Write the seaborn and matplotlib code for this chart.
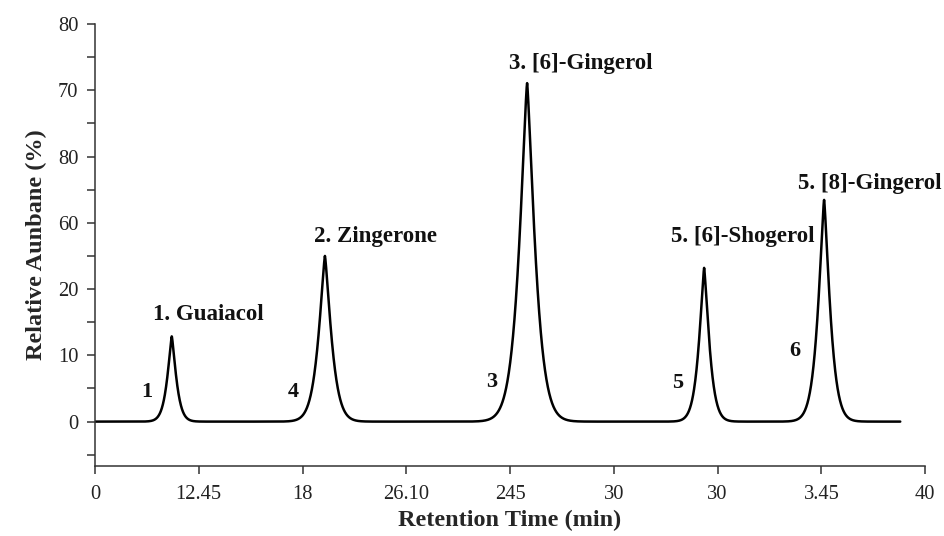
import numpy as np
import pandas as pd
import matplotlib
matplotlib.use("Agg")
import matplotlib.pyplot as plt
import seaborn as sns

# peaks (x in axis units 0-40, y in axis units)
peak_centers = [3.70, 11.08, 20.82, 29.35, 35.13]
peak_heights = [12.9, 25.0, 51.1, 23.2, 33.5]
peak_fwhm = [0.45, 0.65, 0.80, 0.52, 0.60]
run_end = 38.8

# compound labels above the peaks
compound_labels = ["1. Guaiacol", "2. Zingerone", "3. [6]-Gingerol",
                   "5. [6]-Shogerol", "5. [8]-Gingerol"]
compound_x = [5.45, 13.5, 23.4, 31.2, 40.8]
compound_y = [16.1, 28.0, 54.1, 27.9, 36.0]
compound_ha = ["center", "center", "center", "center", "right"]

# small peak numbers
peak_numbers = ["1", "4", "3", "5", "6"]
number_x = [2.5, 9.55, 19.1, 28.05, 33.7]
number_y = [4.5, 4.5, 6.0, 5.9, 10.6]

# tick labels as printed on the original
x_tick_labels = ["0", "12.45", "18", "26.10", "245", "30", "30", "3.45", "40"]
y_tick_labels = ["0", "10", "20", "60", "80", "70", "80"]

# build the trace from the peaks
p = 1.3
t = np.linspace(0, run_end, 4000)
signal = np.zeros_like(t)
for c, h, f in zip(peak_centers, peak_heights, peak_fwhm):
    w = f / 2 / np.log(2) ** (1 / p)
    signal += h * np.exp(-(np.abs(t - c) / w) ** p)
df = pd.DataFrame({"time": t, "abundance": signal})

sns.set_theme(style="ticks")
plt.rcParams['font.family'] = ['Liberation Serif', 'DejaVu Serif']

fig = plt.figure(figsize=(9.45, 5.36), dpi=100)
ax = fig.add_axes([0.1005, 0.1306, 0.8785, 0.8246])

sns.lineplot(data=df, x="time", y="abundance", ax=ax, color="black", linewidth=1.8)

ax.set_xlim(0, 40)
ax.set_ylim(-6.7, 60)
ax.set_xticks(np.arange(0, 41, 5))
ax.set_xticklabels(x_tick_labels)
ax.set_yticks(np.arange(0, 61, 10))
ax.set_yticklabels(y_tick_labels)
ax.set_yticks(np.arange(-5, 60, 10), minor=True)
ax.tick_params(axis="both", which="major", direction="out", length=6, width=1.1,
               labelsize=14.8, colors="#333333", labelcolor="#222222")
ax.tick_params(axis="y", which="minor", direction="out", length=6, width=1.1, colors="#333333")
ax.tick_params(axis="x", pad=8)
ax.tick_params(axis="y", pad=6)

for side in ["top", "right"]:
    ax.spines[side].set_visible(False)
for side in ["left", "bottom"]:
    ax.spines[side].set_color("#333333")
    ax.spines[side].set_linewidth(1.1)

ax.set_xlabel("Retention Time (min)", fontsize=17.5, fontweight="bold", labelpad=4)
ax.set_ylabel("Relative Aunbane (%)", fontsize=17.5, fontweight="bold", labelpad=8)

for lab, x, y, ha in zip(compound_labels, compound_x, compound_y, compound_ha):
    ax.text(x, y, lab, ha=ha, va="center", fontsize=16.5, fontweight="bold",
            color="#111111", clip_on=False)
for lab, x, y in zip(peak_numbers, number_x, number_y):
    ax.text(x, y, lab, ha="center", va="center", fontsize=16, fontweight="bold",
            color="#111111")

fig.savefig("out.png", dpi=100)
